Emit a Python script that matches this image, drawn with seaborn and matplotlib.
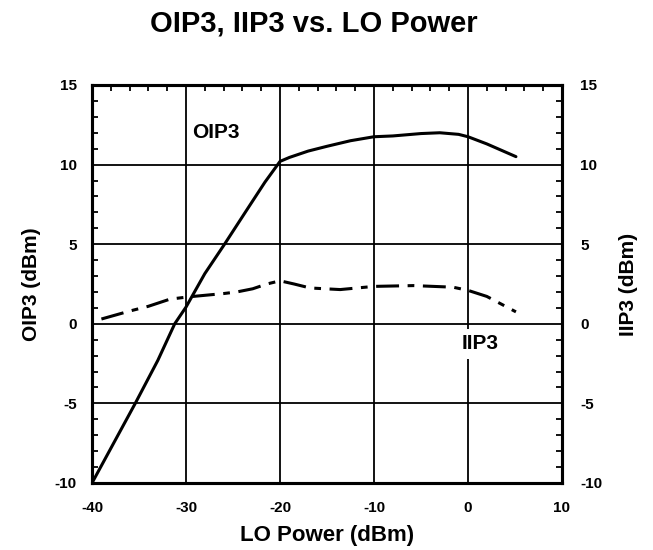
import numpy as np
import pandas as pd
import seaborn as sns
import matplotlib
matplotlib.use("Agg")
import matplotlib.pyplot as plt
from matplotlib.ticker import MultipleLocator

# values
lo_oip3 = [-40, -37.7, -35.4, -33, -31.2, -30, -28, -25.9, -23.7, -21.6, -20, -19,
           -17, -15, -12.5, -10, -8, -5, -3, -1, 0, 2, 5.1]
oip3 = [-10, -7.5, -5, -2.3, 0, 1.05, 3.15, 5, 7.0, 8.9, 10.2, 10.45,
        10.85, 11.15, 11.5, 11.75, 11.8, 11.95, 12.0, 11.9, 11.75, 11.3, 10.5]

lo_iip3 = [-39, -36, -34, -31.7, -29.6, -26, -24.6, -22.9, -21.4, -20, -18.5,
           -16.8, -13.6, -10, -5.8, -1.6, 0, 2, 5.1]
iip3 = [0.3, 0.8, 1.1, 1.55, 1.7, 1.9, 2.0, 2.2, 2.5, 2.7, 2.5,
        2.25, 2.15, 2.35, 2.4, 2.3, 2.1, 1.72, 0.75]

x_ticks = [-40, -30, -20, -10, 0, 10]
y_ticks = [-10, -5, 0, 5, 10, 15]

sns.set_style("white")
plt.rcParams['font.family'] = ['Liberation Sans', 'DejaVu Sans']
plt.rcParams['font.weight'] = 'bold'
plt.rcParams['axes.unicode_minus'] = False
for k in ['text.color', 'axes.labelcolor', 'xtick.color', 'ytick.color']:
    plt.rcParams[k] = 'black'

fig = plt.figure(figsize=(6.53, 5.5), dpi=100)
ax = fig.add_axes([92 / 653, 67 / 550, 470 / 653, 398 / 550])
ax2 = ax.twinx()

ax.grid(True, color='black', linewidth=1.3, zorder=1)
ax.set_axisbelow(True)

sns.lineplot(x=lo_oip3, y=oip3, ax=ax, color='black', linewidth=2.2, zorder=3)
sns.lineplot(x=lo_iip3, y=iip3, ax=ax2, color='black', linewidth=2.2,
             linestyle=(0, (7.5, 2.8, 2.2, 2.8)), zorder=3)

for a in (ax, ax2):
    a.set_xlim(-40, 10)
    a.set_ylim(-10, 15)
    a.set_yticks(y_ticks)
    a.yaxis.set_minor_locator(MultipleLocator(1))
    for s in a.spines.values():
        s.set_linewidth(2.2)
        s.set_color('black')

ax.set_xticks(x_ticks)
ax.xaxis.set_minor_locator(MultipleLocator(2))
ax.tick_params(axis='both', which='both', direction='in', top=True,
               labelsize=11, width=1.3)
ax.tick_params(axis='y', which='major', length=0, pad=11)
ax.tick_params(axis='x', which='major', length=0, pad=13)
ax.tick_params(which='minor', length=4)
ax2.tick_params(axis='y', which='both', direction='in', labelsize=11, width=1.3)
ax2.tick_params(axis='y', which='major', length=0, pad=13)
ax2.tick_params(axis='y', which='minor', length=4)

for lbl in ax.get_xticklabels() + ax.get_yticklabels() + ax2.get_yticklabels():
    lbl.set_fontweight('bold')

ax.set_xlabel('LO Power (dBm)', fontsize=16, fontweight='bold', labelpad=7)
ax.set_ylabel('OIP3 (dBm)', fontsize=15, fontweight='bold', labelpad=10)
ax2.set_ylabel('IIP3 (dBm)', fontsize=15, fontweight='bold', labelpad=12)

ax.text(-29.4, 12.0, 'OIP3', fontsize=15, fontweight='bold', va='center',
        ha='left', zorder=4)
ax.text(-0.7, -1.25, 'IIP3', fontsize=15, fontweight='bold', va='center',
        ha='left', zorder=4,
        bbox=dict(facecolor='white', edgecolor='none', pad=4))

fig.text(0.48, 0.958, 'OIP3, IIP3 vs. LO Power', fontsize=21, fontweight='bold',
         ha='center', va='center')

fig.savefig('out.png', dpi=100, facecolor='white')
